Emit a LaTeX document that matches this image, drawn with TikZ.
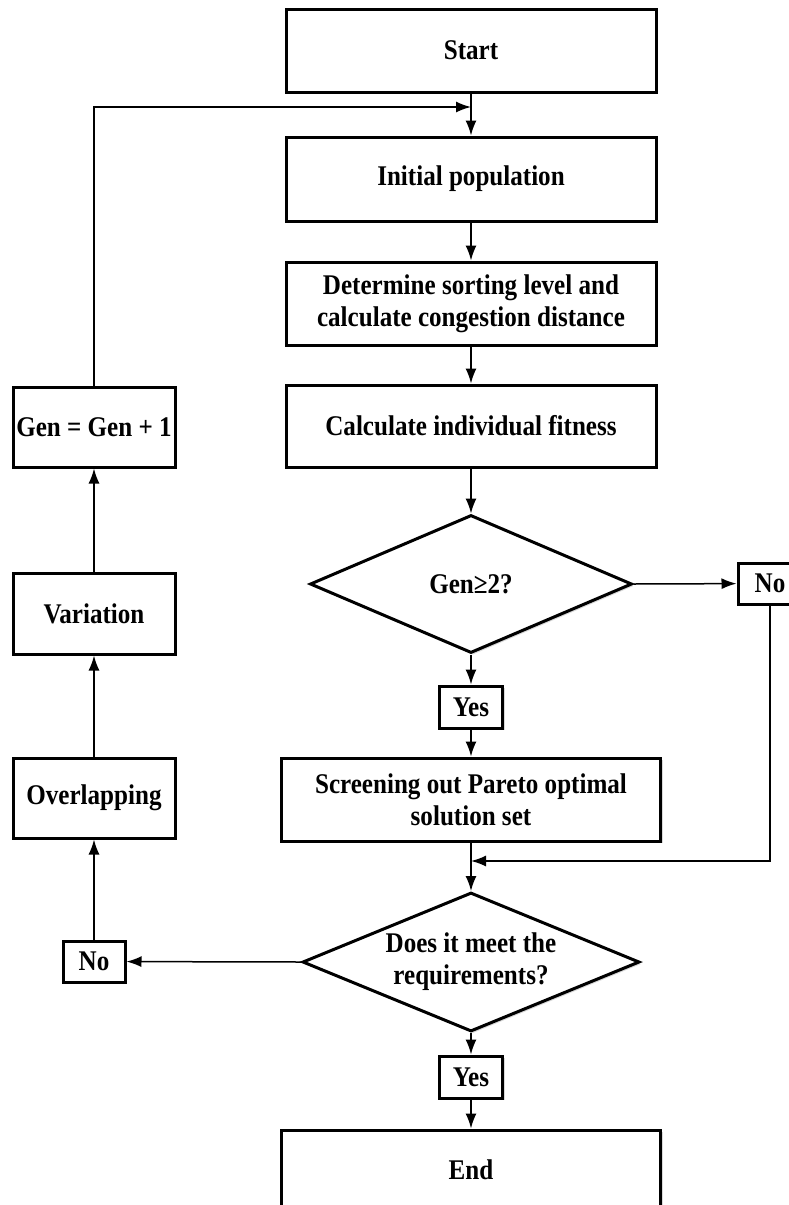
\documentclass[tikz,border=0pt]{standalone}
\usepackage{fontspec}
\setmainfont[FakeStretch=0.88]{Liberation Serif}
\usepackage{tikz}
\usetikzlibrary{arrows.meta}
\usetikzlibrary{shapes.geometric}
\usetikzlibrary{shadows}

\tikzset{
  box/.style={draw, line width=3pt, fill=white, align=center, inner sep=0pt,
    font=\bfseries\fontsize{28.5}{32}\selectfont,
    drop shadow={shadow xshift=2pt, shadow yshift=-2pt, opacity=0.3, fill=gray}},
  decision/.style={box, diamond, aspect=2.3},
  flow/.style={line width=1.5pt, -{Latex[length=15pt,width=11pt]}},
}

\begin{document}
\begin{tikzpicture}[x=1pt,y=-1pt]
\useasboundingbox (0,0) rectangle (789,1205);

% main column
\node[box, minimum width=370pt, minimum height=83pt] (start) at (471,50.5) {Start};
\node[box, minimum width=370pt, minimum height=84pt] (init) at (471,179) {Initial population};
\node[box, minimum width=370pt, minimum height=83pt] (sort) at (471,303.5) {Determine sorting level and\\calculate congestion distance};
\node[box, minimum width=370pt, minimum height=82pt] (fit) at (471,426) {Calculate individual fitness};

\node[decision, minimum width=322pt, minimum height=138pt] (gencheck) at (471,584) {Gen≥2?};
\node[box, minimum width=64pt, minimum height=41pt] (nogen) at (770,583.5) {No};
\node[box, minimum width=63pt, minimum height=42pt] (yesgen) at (471,707) {Yes};

\node[box, minimum width=379pt, minimum height=83pt] (pareto) at (471,799.5) {Screening out Pareto optimal\\solution set};

\node[decision, minimum width=337pt, minimum height=139pt] (req) at (471,962) {Does it meet the\\requirements?};
\node[box, minimum width=62pt, minimum height=41pt] (noreq) at (94,961.5) {No};
\node[box, minimum width=63pt, minimum height=42pt] (yesreq) at (471,1077) {Yes};
\node[box, minimum width=379pt, minimum height=80pt] (stop) at (471,1170) {End};

% loop column
\node[box, minimum width=162pt, minimum height=80pt] (overlap) at (94,798) {Overlapping};
\node[box, minimum width=162pt, minimum height=81pt] (vary) at (94,613.5) {Variation};
\node[box, minimum width=162pt, minimum height=80pt] (gennext) at (94,427) {Gen = Gen + 1};

\coordinate (loopin) at (471,107);
\coordinate (merge) at (471,861);

\draw[flow] (start) -- (init);
\draw[flow] (gennext.north) |- (loopin);
\draw[flow] (init) -- (sort);
\draw[flow] (sort) -- (fit);
\draw[flow] (fit) -- (gencheck);
\draw[flow] (gencheck.east) -- (nogen);
\draw[flow] (gencheck.south) -- (yesgen);
\draw[flow] (yesgen) -- (pareto);
\draw[flow] (nogen.south) |- (merge);
\draw[flow] (pareto) -- (req.north);
\draw[flow] (req.west) -- (noreq);
\draw[flow] (req.south) -- (yesreq);
\draw[flow] (yesreq) -- (stop);
\draw[flow] (noreq) -- (overlap);
\draw[flow] (overlap) -- (vary);
\draw[flow] (vary) -- (gennext);

\end{tikzpicture}
\end{document}
